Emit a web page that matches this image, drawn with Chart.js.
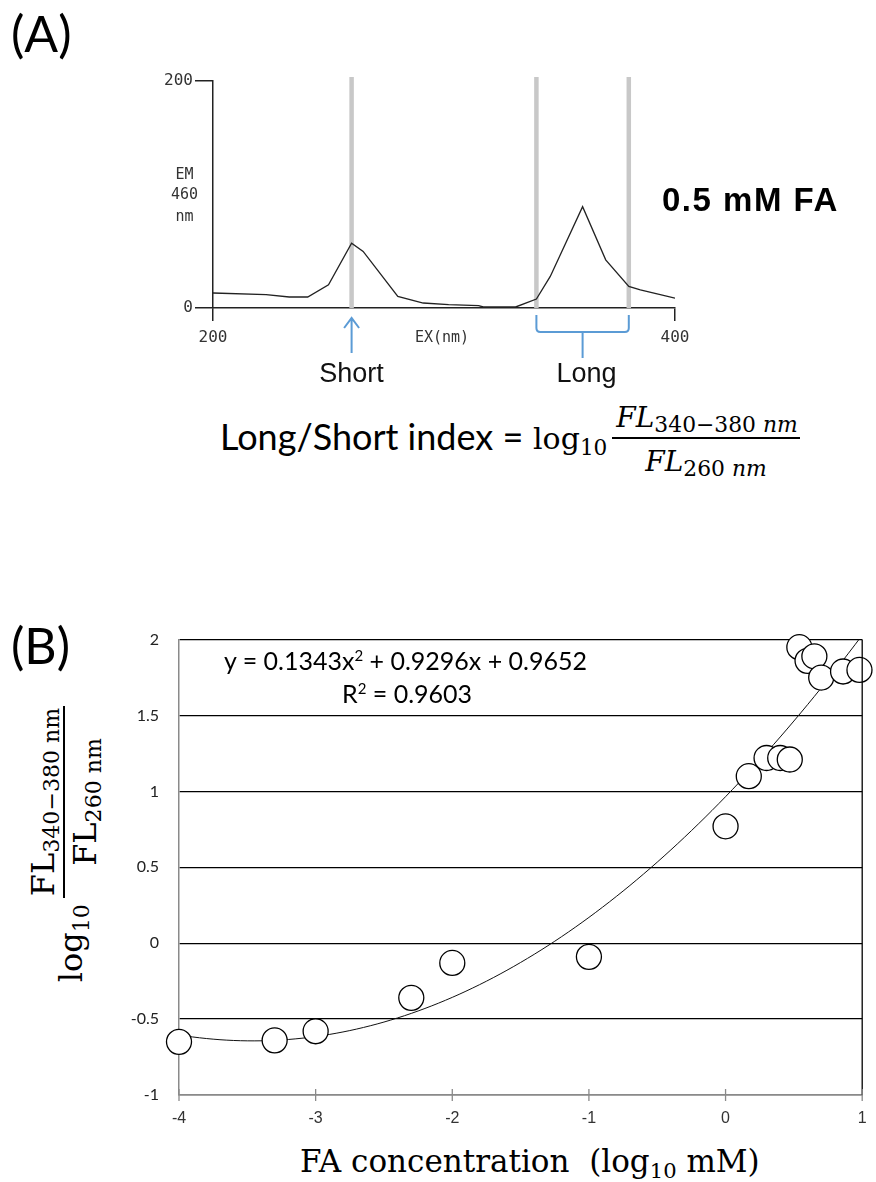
<!DOCTYPE html>
<html>
<head>
<meta charset="utf-8">
<script src="https://cdn.jsdelivr.net/npm/chart.js@4.4.1/dist/chart.umd.min.js"></script>
<style>
  html, body { margin: 0; padding: 0; background: #fff; }
  #page { position: relative; width: 876px; height: 1182px; overflow: hidden; }
  .abs { position: absolute; white-space: nowrap; color: #000; line-height: 1; }
  .cx { transform: translateX(-50%); }
  .panel { font-family: Lato, "Open Sans", sans-serif; font-size: 50px; }
  .lato { font-family: Lato, "Open Sans", sans-serif; }
  .serif { font-family: "DejaVu Serif", "Liberation Serif", serif; }
  sub { vertical-align: -0.3em; line-height: 0; }
  sup { line-height: 0; }
</style>
</head>
<body>
<div id="page">
  <div class="abs panel" style="left:11px; top:8px;">(A)</div>
  <div class="abs panel" style="left:11px; top:620px;">(B)</div>

  <div style="position:absolute; left:140px; top:60px; width:580px; height:330px;">
    <canvas id="spectrumChart" width="580" height="330"></canvas>
  </div>

  <div class="abs" style="left:662px; top:183px; font-family:'Liberation Sans', Arial, sans-serif; font-weight:bold; font-size:33px; letter-spacing:1.5px;">0.5 mM FA</div>

  <!-- index definition -->
  <div class="abs lato" style="left:220px; top:418px; font-size:36px;">Long/Short index =</div>
  <div class="abs serif" style="left:533px; top:424px; font-size:30px;">log<sub style="font-size:72%; vertical-align:-0.28em;">10</sub></div>
  <div class="abs serif cx" style="left:707px; top:404px; font-size:28px;"><i>FL</i><sub style="font-size:78%; vertical-align:-0.25em;">340−380 <i>nm</i></sub></div>
  <div style="position:absolute; left:612px; top:437px; width:188px; height:2px; background:#000;"></div>
  <div class="abs serif cx" style="left:706px; top:448px; font-size:28px;"><i>FL</i><sub style="font-size:78%; vertical-align:-0.25em;">260 <i>nm</i></sub></div>

  <div style="position:absolute; left:120px; top:610px; width:756px; height:520px;">
    <canvas id="indexChart" width="756" height="520"></canvas>
  </div>

  <div class="abs lato" style="left:224px; top:648px; font-size:25px;">y = 0.1343x<sup style="font-size:60%;">2</sup> + 0.9296x + 0.9652</div>
  <div class="abs lato" style="left:342px; top:681px; font-size:25px;">R<sup style="font-size:60%;">2</sup> = 0.9603</div>

  <!-- rotated y-axis title of (B) -->
  <div class="abs serif" style="left:-86px; top:799px; width:300px; height:90px; display:flex; align-items:center; justify-content:center; transform:rotate(-90deg);">
    <span style="font-size:32px; margin-top:14px;">log<sub style="font-size:69%;">10</sub></span>
    <span style="display:inline-flex; flex-direction:column; align-items:center; margin-left:6px;">
      <span style="font-size:32px; border-bottom:2px solid #000; padding:0 2px 4px 2px;">FL<sub style="font-size:69%; vertical-align:-0.22em;">340−380 nm</sub></span>
      <span style="font-size:32px; padding-top:4px;">FL<sub style="font-size:69%; vertical-align:-0.22em;">260 nm</sub></span>
    </span>
  </div>

  <div class="abs serif" style="left:300px; top:1146px; font-size:31px;">FA concentration&nbsp; (log<sub style="font-size:68%;">10</sub> mM)</div>
</div>

<script>
// (A) excitation spectrum, emission at 460 nm
const spectrumWavelengths = [200, 223, 233, 241, 250, 260, 265, 280, 291, 302, 315, 317, 331, 340, 346, 360, 370, 380, 385, 400];
const spectrumIntensity = [13.2, 11.7, 9.7, 9.7, 20.5, 57, 49.8, 10.2, 4.4, 3, 2.1, 0.9, 0.9, 7.9, 27.8, 89.3, 42.4, 19, 16, 8.7];
const markerWavelengths = [260, 340, 380];
const spectrumXTicks = [200, 400];
const spectrumYTicks = [0, 200];

// (B) Long/Short index against log10 FA concentration
const logConcentration = [-4, -3.3, -3, -2.3, -2, -1, 0, 0.17, 0.3, 0.4, 0.47, 0.54, 0.6, 0.65, 0.7, 0.86, 0.98];
const longShortIndex = [-0.65, -0.64, -0.58, -0.36, -0.13, -0.09, 0.77, 1.1, 1.22, 1.22, 1.21, 1.95, 1.86, 1.89, 1.75, 1.79, 1.8];
const trendCoefficients = [0.1343, 0.9296, 0.9652];   // a, b, c of the quadratic fit
const indexXTicks = [-4, -3, -2, -1, 0, 1];
const indexYTicks = [-1, -0.5, 0, 0.5, 1, 1.5, 2];

const monoFont = { family: "'DejaVu Sans Mono', 'Liberation Mono', monospace", size: 16 };
const blue = '#5b9bd5';

function fixTicks(values) {
    return function (scale) {
        scale.ticks = values.map(v => ({ value: v }));
    };
}

// gray bands at the measured wavelengths, behind the trace
const markerLines = {
    id: 'markerLines',
    beforeDatasetsDraw(chart) {
        const { ctx, chartArea, scales } = chart;
        ctx.save();
        ctx.strokeStyle = '#c8c8c8';
        ctx.lineWidth = 4.5;
        markerWavelengths.forEach(w => {
            const x = scales.x.getPixelForValue(w);
            ctx.beginPath();
            ctx.moveTo(x, chartArea.top - 4);
            ctx.lineTo(x, chartArea.bottom);
            ctx.stroke();
        });
        ctx.restore();
    },
    afterDraw(chart) {
        const { ctx, chartArea, scales } = chart;
        const xs = scales.x;
        const base = chartArea.bottom;
        ctx.save();

        // arrow under the short wavelength
        const xShort = xs.getPixelForValue(markerWavelengths[0]);
        ctx.strokeStyle = blue;
        ctx.lineWidth = 2;
        ctx.beginPath();
        ctx.moveTo(xShort, base + 45);
        ctx.lineTo(xShort, base + 10);
        ctx.moveTo(xShort - 7.5, base + 20);
        ctx.lineTo(xShort, base + 10);
        ctx.lineTo(xShort + 7.5, base + 20);
        ctx.stroke();

        // bracket over the long range
        const x1 = xs.getPixelForValue(markerWavelengths[1]);
        const x2 = xs.getPixelForValue(markerWavelengths[2]);
        const xm = (x1 + x2) / 2;
        ctx.beginPath();
        ctx.moveTo(x1, base + 7);
        ctx.lineTo(x1, base + 20);
        ctx.quadraticCurveTo(x1, base + 24, x1 + 4, base + 24);
        ctx.lineTo(x2 - 4, base + 24);
        ctx.quadraticCurveTo(x2, base + 24, x2, base + 20);
        ctx.lineTo(x2, base + 7);
        ctx.moveTo(xm, base + 24);
        ctx.lineTo(xm, base + 50);
        ctx.stroke();

        ctx.fillStyle = '#111';
        ctx.font = "27px 'Liberation Sans', Arial, sans-serif";
        ctx.textAlign = 'center';
        ctx.textBaseline = 'alphabetic';
        ctx.fillText('Short', xShort, base + 74);
        ctx.fillText('Long', xm + 4, base + 74);

        // axis captions
        ctx.fillStyle = '#333';
        ctx.font = "15px 'DejaVu Sans Mono', monospace";
        ctx.textBaseline = 'middle';
        ctx.fillText('EX(nm)', xs.getPixelForValue(300) - 2, base + 30);
        const yc = (chartArea.top + chartArea.bottom) / 2;
        const xc = chartArea.left - 28.5;
        ctx.fillText('EM', xc, yc - 19.5);
        ctx.fillText('460', xc, yc + 1);
        ctx.fillText('nm', xc, yc + 23);
        ctx.restore();
    }
};

new Chart(document.getElementById('spectrumChart'), {
    type: 'line',
    data: {
        datasets: [{
            data: spectrumWavelengths.map((w, i) => ({ x: w, y: spectrumIntensity[i] })),
            borderColor: '#222',
            borderWidth: 1.3,
            pointRadius: 0,
            tension: 0,
            fill: false
        }]
    },
    options: {
        responsive: false,
        animation: false,
        events: [],
        layout: { padding: { top: 21, right: 45, left: 0, bottom: 0 } },
        plugins: { legend: { display: false }, tooltip: { enabled: false } },
        scales: {
            x: {
                type: 'linear',
                min: 200, max: 400,
                afterBuildTicks: fixTicks(spectrumXTicks),
                afterFit(scale) { scale.height = 82; },
                border: { display: true, color: '#222', width: 1.5 },
                grid: { drawOnChartArea: false, drawTicks: true, tickLength: 13, color: '#222', lineWidth: 1.5 },
                ticks: { color: '#333', font: monoFont, padding: 7, maxRotation: 0 }
            },
            y: {
                min: 0, max: 200,
                afterBuildTicks: fixTicks(spectrumYTicks),
                afterFit(scale) { scale.width = 73; },
                border: { display: true, color: '#222', width: 1.5 },
                grid: { drawOnChartArea: false, drawTicks: true, tickLength: 18, color: '#222', lineWidth: 1.5 },
                ticks: { color: '#333', font: monoFont, padding: 2 }
            }
        }
    },
    plugins: [markerLines]
});

// right frame edge and crossing tick marks on the concentration axis
const indexFrame = {
    id: 'indexFrame',
    afterDatasetsDraw(chart) {
        const { ctx, chartArea, scales } = chart;
        ctx.save();
        ctx.strokeStyle = '#000';
        ctx.lineWidth = 1.3;
        ctx.beginPath();
        ctx.moveTo(chartArea.right, chartArea.top);
        ctx.lineTo(chartArea.right, chartArea.bottom);
        ctx.stroke();
        ctx.strokeStyle = '#8a8a8a';
        indexXTicks.forEach(v => {
            const x = scales.x.getPixelForValue(v);
            ctx.beginPath();
            ctx.moveTo(x, chartArea.bottom - 6);
            ctx.lineTo(x, chartArea.bottom + 6);
            ctx.stroke();
        });
        ctx.restore();
    }
};

const trendX = [];
for (let x = indexXTicks[0]; x <= indexXTicks[indexXTicks.length - 1] + 1e-9; x += 0.05) trendX.push(x);
const [ta, tb, tc] = trendCoefficients;

new Chart(document.getElementById('indexChart'), {
    type: 'scatter',
    data: {
        datasets: [{
            data: logConcentration.map((x, i) => ({ x: x, y: longShortIndex[i] })),
            pointRadius: 12.5,
            pointBorderWidth: 1.3,
            pointBorderColor: '#000',
            pointBackgroundColor: '#fff',
            clip: false,
            order: 0
        }, {
            type: 'line',
            data: trendX.map(x => ({ x: x, y: ta * x * x + tb * x + tc })),
            borderColor: '#111',
            borderWidth: 1,
            pointRadius: 0,
            tension: 0,
            order: 1
        }]
    },
    options: {
        responsive: false,
        animation: false,
        events: [],
        layout: { padding: { top: 25, right: 12, left: 0, bottom: 0 } },
        plugins: { legend: { display: false }, tooltip: { enabled: false } },
        scales: {
            x: {
                type: 'linear',
                min: -4, max: 1,
                afterBuildTicks: fixTicks(indexXTicks),
                afterFit(scale) { scale.height = 35; },
                border: { display: true, color: '#8a8a8a', width: 1.5 },
                grid: { drawOnChartArea: false, drawTicks: true, tickLength: 6, color: 'rgba(0,0,0,0)' },
                ticks: { color: '#333', font: { family: "'Liberation Sans', Arial, sans-serif", size: 16 }, padding: 8, maxRotation: 0 }
            },
            y: {
                min: -1, max: 2,
                afterBuildTicks: fixTicks(indexYTicks),
                afterFit(scale) { scale.width = 59; },
                border: { display: true, color: '#8a8a8a', width: 1.5 },
                grid: { drawTicks: false, color: '#000', lineWidth: 1.3 },
                ticks: {
                    color: '#222',
                    font: { family: "Lato, 'Open Sans', sans-serif", size: 16 },
                    padding: 20,
                    callback: v => String(v)
                }
            }
        }
    },
    plugins: [indexFrame]
});
</script>
</body>
</html>
